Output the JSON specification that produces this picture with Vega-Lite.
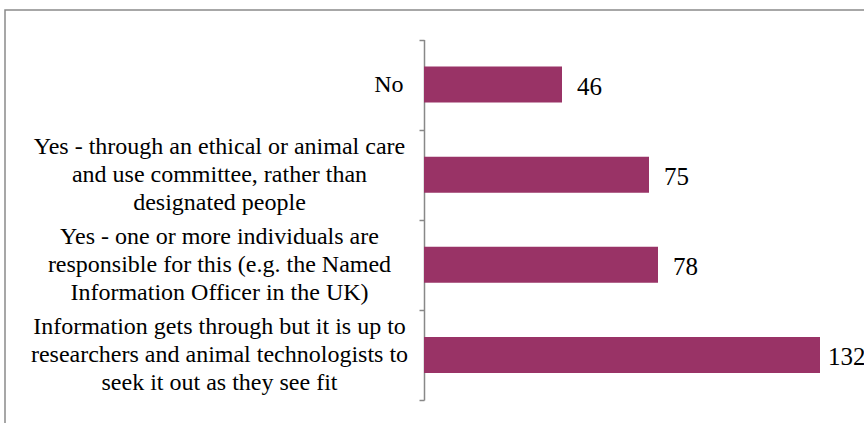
{
  "$schema": "https://vega.github.io/schema/vega-lite/v6.json",
  "width": 861,
  "height": 415,
  "autosize": {"type": "none"},
  "padding": {"left": 5, "top": 10, "right": 0, "bottom": 0},
  "background": "white",
  "config": {"view": {"stroke": "#8a8a8a", "strokeWidth": 1.5}, "font": "'Liberation Serif', 'Times New Roman', serif"},
  "data": {"values": [
    {"response": "No", "count": 46},
    {"response": "Yes - through an ethical or animal care\nand use committee, rather than\ndesignated people", "count": 75},
    {"response": "Yes - one or more individuals are\nresponsible for this (e.g. the Named\nInformation Officer in the UK)", "count": 78},
    {"response": "Information gets through but it is up to\nresearchers and animal technologists to\nseek it out as they see fit", "count": 132}
  ]},
  "encoding": {
    "y": {
      "field": "response",
      "type": "nominal",
      "sort": null,
      "scale": {"range": [29.5, 390], "paddingInner": 0, "paddingOuter": 0},
      "axis": {
        "title": null,
        "orient": "left",
        "offset": -419,
        "tickBand": "extent",
        "tickSize": 5,
        "tickColor": "#888888",
        "tickWidth": 1.5,
        "domainColor": "#888888",
        "domainWidth": 1.5,
        "labelFont": "'Liberation Serif', 'Times New Roman', serif",
        "labelFontSize": 24,
        "labelColor": "black",
        "labelLimit": 0,
        "labelLineHeight": 28,
        "labelBaseline": "middle",
        "labelExpr": "datum.value ? split(datum.value, '\\n') : ''",
        "labelAlign": {"condition": {"test": "datum.value === 'No'", "value": "right"}, "value": "center"},
        "labelPadding": {"condition": {"test": "datum.value === 'No'", "value": 16}, "value": 200},
        "labelOffset": {"condition": {"test": "datum.value === 'No'", "value": 0}, "value": -28}
      }
    }
  },
  "layer": [
    {
      "mark": {"type": "bar", "color": "#993366", "height": {"band": 0.4}},
      "encoding": {
        "x": {"field": "count", "type": "quantitative", "scale": {"domain": [-139.667, 147.333], "nice": false, "zero": false}, "axis": null},
        "x2": {"datum": 0}
      }
    },
    {
      "mark": {"type": "text", "align": "left", "baseline": "middle", "dx": {"expr": "datum.count > 100 ? 8 : 15"}, "dy": 2, "fontSize": 25, "font": "'Liberation Serif', 'Times New Roman', serif", "color": "black"},
      "encoding": {
        "x": {"field": "count", "type": "quantitative"},
        "text": {"field": "count", "type": "quantitative"}
      }
    }
  ]
}
